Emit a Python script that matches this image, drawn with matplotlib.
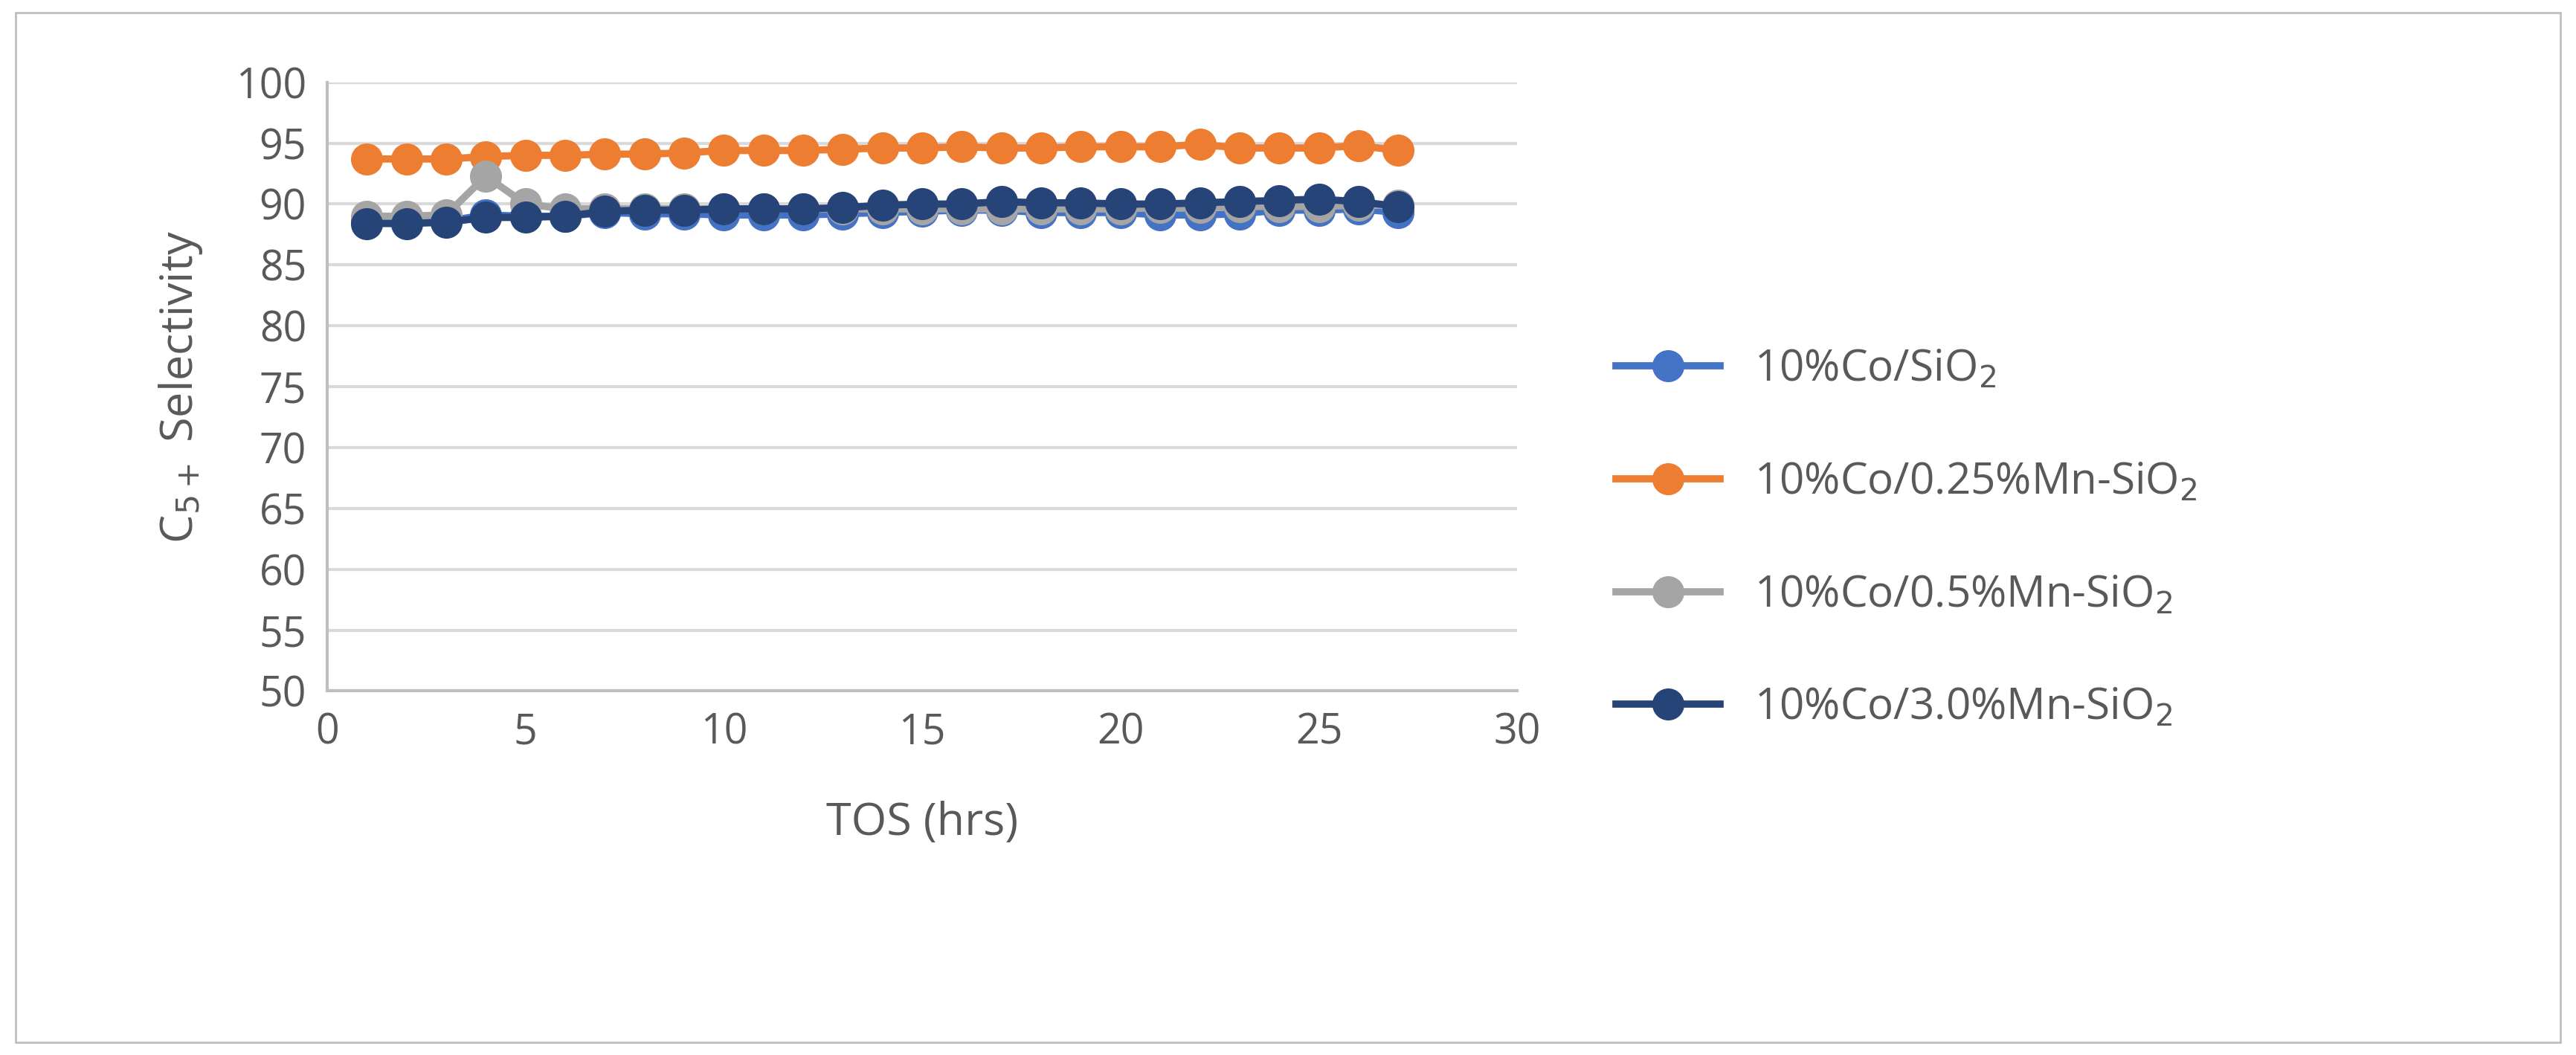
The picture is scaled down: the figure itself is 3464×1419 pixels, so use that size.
import numpy as np
import matplotlib
matplotlib.use('Agg')
import matplotlib.pyplot as plt
from matplotlib.patches import Rectangle

tos = list(range(1, 28))
co_sio2 = [88.6, 88.6, 88.6, 89.1, 89.0, 89.0, 89.3, 89.2, 89.2, 89.1, 89.1, 89.1, 89.2, 89.3,
           89.4, 89.5, 89.5, 89.3, 89.3, 89.3, 89.1, 89.1, 89.2, 89.5, 89.5, 89.6, 89.3]
mn025 = [93.7, 93.7, 93.7, 93.9, 94.0, 94.0, 94.1, 94.1, 94.2, 94.4, 94.4, 94.4, 94.5, 94.6,
         94.6, 94.7, 94.6, 94.6, 94.7, 94.7, 94.7, 94.9, 94.6, 94.6, 94.6, 94.8, 94.4]
mn05 = [89.0, 89.0, 89.1, 92.3, 90.0, 89.6, 89.6, 89.6, 89.6, 89.6, 89.6, 89.6, 89.6, 89.6,
        89.6, 89.6, 89.6, 89.6, 89.6, 89.6, 89.7, 89.7, 89.8, 89.8, 89.8, 89.9, 89.9]
mn30 = [88.4, 88.4, 88.5, 88.9, 88.9, 89.0, 89.4, 89.5, 89.5, 89.6, 89.6, 89.6, 89.7, 89.9,
        90.0, 90.0, 90.2, 90.1, 90.1, 90.0, 90.0, 90.1, 90.2, 90.3, 90.4, 90.2, 89.8]

series = [
    (co_sio2, '#4472C4', '10%Co/SiO$_2$'),
    (mn025, '#ED7D31', '10%Co/0.25%Mn-SiO$_2$'),
    (mn05, '#A5A5A5', '10%Co/0.5%Mn-SiO$_2$'),
    (mn30, '#264478', '10%Co/3.0%Mn-SiO$_2$'),
]

plt.rcParams['font.family'] = ['Open Sans', 'DejaVu Sans']
fig = plt.figure(figsize=(34.64, 14.19), dpi=100)
fig.patches.append(Rectangle((0.006, 0.012), 0.988, 0.976, transform=fig.transFigure,
                             fill=False, edgecolor='#BFBFBF', linewidth=2))
ax = fig.add_axes([0.127, 0.345, 0.462, 0.577])

for vals, col, lab in series:
    ax.plot(tos, vals, '-o', color=col, linewidth=7, markersize=30, label=lab)

ax.set_xlim(0, 30)
ax.set_ylim(50, 100)
ax.set_xticks(range(0, 31, 5))
ax.set_yticks(range(50, 101, 5))
ax.yaxis.grid(True, color='#D9D9D9', linewidth=3)
ax.set_axisbelow(True)
for s in ['top', 'right']:
    ax.spines[s].set_visible(False)
for s in ['left', 'bottom']:
    ax.spines[s].set_color('#BFBFBF')
    ax.spines[s].set_linewidth(3)
ax.tick_params(length=0, labelsize=40, labelcolor='#595959', pad=20)
ax.set_xlabel('TOS (hrs)', fontsize=44, color='#595959', labelpad=45)
ax.set_ylabel('C$_{5+}$ Selectivity', fontsize=44, color='#595959', labelpad=30)

ax.legend(loc='center left', bbox_to_anchor=(1.05, 0.25), frameon=False, fontsize=42,
          labelcolor='#595959', handlelength=2.4, labelspacing=1.6)

fig.savefig('out.png')
